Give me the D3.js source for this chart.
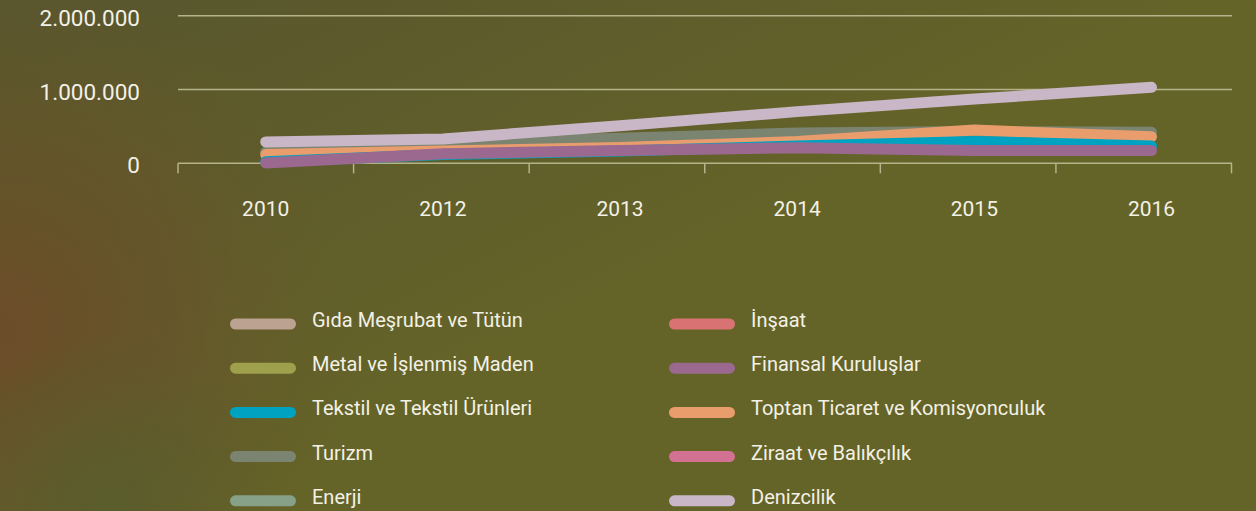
<!DOCTYPE html>
<html>
<head>
<meta charset="utf-8">
<script src="https://cdn.jsdelivr.net/npm/d3@7/dist/d3.min.js"></script>
<style>
    html, body { margin: 0; padding: 0; background: #636128; }
    svg { display: block; }
    text { font-family: Roboto, "Noto Sans", sans-serif; fill: #f3f1e6; }
</style>
</head>
<body>
<div id="vis"></div>
<script>
    const WIDTH = 1256;
    const HEIGHT = 511;

    // data (values in units)
    var years = ["2010", "2012", "2013", "2014", "2015", "2016"];
    var yTicks = [0, 1000000, 2000000];
    var seriesNames = ["Gıda Meşrubat ve Tütün", "Metal ve İşlenmiş Maden", "Tekstil ve Tekstil Ürünleri",
        "Turizm", "Enerji", "İnşaat", "Finansal Kuruluşlar", "Toptan Ticaret ve Komisyonculuk",
        "Ziraat ve Balıkçılık", "Denizcilik"];
    var seriesColors = ["#bba291", "#9fa04b", "#00a2c2", "#7a8470", "#87a088", "#d97272", "#9b6990",
        "#e99d6d", "#d27192", "#c9b6c6"];
    var turizm = [150000, 285000, 340000, 410000, 430000, 420000];
    var toptan = [120000, 165000, 215000, 295000, 450000, 360000];
    var tekstil = [20000, 120000, 165000, 235000, 295000, 235000];
    var finansal = [5000, 130000, 175000, 210000, 175000, 172000];
    var denizcilik = [290000, 330000, 510000, 700000, 870000, 1030000];
    // series that do not show up in the chart
    var gida = [];
    var metal = [];
    var enerji = [];
    var insaat = [];
    var ziraat = [];

    // drawing order, bottom first
    var lines = [
        {name: "Gıda Meşrubat ve Tütün", values: gida},
        {name: "Metal ve İşlenmiş Maden", values: metal},
        {name: "Enerji", values: enerji},
        {name: "İnşaat", values: insaat},
        {name: "Ziraat ve Balıkçılık", values: ziraat},
        {name: "Turizm", values: turizm},
        {name: "Toptan Ticaret ve Komisyonculuk", values: toptan},
        {name: "Tekstil ve Tekstil Ürünleri", values: tekstil},
        {name: "Finansal Kuruluşlar", values: finansal},
        {name: "Denizcilik", values: denizcilik}
    ];

    var color = d3.scaleOrdinal().domain(seriesNames).range(seriesColors);

    var svg = d3.select("#vis").append("svg")
        .attr("width", WIDTH)
        .attr("height", HEIGHT);

    // blurred photo background
    var defs = svg.append("defs");
    var g1 = defs.append("radialGradient").attr("id", "brown")
        .attr("gradientUnits", "userSpaceOnUse")
        .attr("cx", 0).attr("cy", 330).attr("r", 360);
    g1.append("stop").attr("offset", 0).attr("stop-color", "#6c4c29").attr("stop-opacity", 1);
    g1.append("stop").attr("offset", 0.45).attr("stop-color", "#68522a").attr("stop-opacity", 0.7);
    g1.append("stop").attr("offset", 1).attr("stop-color", "#655a28").attr("stop-opacity", 0);
    var g2 = defs.append("radialGradient").attr("id", "green")
        .attr("gradientUnits", "userSpaceOnUse")
        .attr("cx", 110).attr("cy", 500).attr("r", 170);
    g2.append("stop").attr("offset", 0).attr("stop-color", "#5a5d2c").attr("stop-opacity", 0.95);
    g2.append("stop").attr("offset", 1).attr("stop-color", "#5a5d2c").attr("stop-opacity", 0);
    var g3 = defs.append("linearGradient").attr("id", "top")
        .attr("x1", 0).attr("y1", 0).attr("x2", 0.6).attr("y2", 0.5);
    g3.append("stop").attr("offset", 0).attr("stop-color", "#56532f").attr("stop-opacity", 0.9);
    g3.append("stop").attr("offset", 1).attr("stop-color", "#56532f").attr("stop-opacity", 0);

    svg.append("rect").attr("width", WIDTH).attr("height", HEIGHT).attr("fill", "#656428");
    svg.append("rect").attr("width", WIDTH).attr("height", HEIGHT).attr("fill", "url(#top)");
    svg.append("rect").attr("width", WIDTH).attr("height", HEIGHT).attr("fill", "url(#brown)");
    svg.append("rect").attr("width", WIDTH).attr("height", HEIGHT).attr("fill", "url(#green)");

    var y = d3.scaleLinear().domain([0, 2000000]).range([163.3, 15.7]);
    var xBand = d3.scaleBand().domain(years).range([178, 1231.5]);
    var x = d3.scalePoint().domain(years).range([265.7, 1151.5]);

    var fmt = function (v) {
        return d3.format(",")(v).replace(/,/g, ".");
    };

    // grid lines
    svg.append("g").selectAll("line")
        .data(yTicks.filter(function (d) { return d > 0; }))
        .enter().append("line")
        .attr("x1", 178).attr("x2", 1232)
        .attr("y1", function (d) { return y(d); })
        .attr("y2", function (d) { return y(d); })
        .attr("stroke", "#b4b38a")
        .attr("stroke-width", 1.5);

    svg.append("g").selectAll("text")
        .data(yTicks)
        .enter().append("text")
        .attr("x", 140)
        .attr("y", function (d) { return y(d) + 10; })
        .attr("text-anchor", "end")
        .attr("font-size", "22.5px")
        .text(fmt);

    // x axis: baseline with ticks at band edges
    var xAxis = svg.append("g")
        .attr("transform", "translate(0," + y(0) + ")")
        .call(d3.axisBottom(xBand).tickSize(0).tickFormat(""));
    xAxis.select(".domain").remove();
    xAxis.append("line")
        .attr("x1", 178).attr("x2", 1232)
        .attr("stroke", "#b4b38a").attr("stroke-width", 1.5);
    xAxis.selectAll(".edge")
        .data(years.concat(["end"]))
        .enter().append("line")
        .attr("class", "edge")
        .attr("x1", function (d, i) { return xBand.range()[0] + i * xBand.step(); })
        .attr("x2", function (d, i) { return xBand.range()[0] + i * xBand.step(); })
        .attr("y1", 0).attr("y2", 10)
        .attr("stroke", "#b4b38a").attr("stroke-width", 1.5);

    svg.append("g").selectAll("text")
        .data(years)
        .enter().append("text")
        .attr("x", function (d) { return x(d); })
        .attr("y", 216)
        .attr("text-anchor", "middle")
        .attr("font-size", "21px")
        .text(function (d) { return d; });

    var line = d3.line()
        .x(function (d, i) { return x(years[i]); })
        .y(function (d) { return y(d); });

    svg.append("g").selectAll("path")
        .data(lines.filter(function (d) { return d.values.length > 0; }))
        .enter().append("path")
        .attr("d", function (d) { return line(d.values); })
        .attr("fill", "none")
        .attr("stroke", function (d) { return color(d.name); })
        .attr("stroke-width", 11)
        .attr("stroke-linecap", "round")
        .attr("stroke-linejoin", "round");

    // legend, two columns of five
    var legend = svg.append("g").selectAll("g")
        .data(seriesNames)
        .enter().append("g")
        .attr("transform", function (d, i) {
            var col = Math.floor(i / 5);
            var row = i % 5;
            return "translate(" + (col === 0 ? 230 : 669) + "," + (324 + row * 44.2) + ")";
        });
    legend.append("line")
        .attr("x1", 5.5).attr("x2", 60.5)
        .attr("stroke", function (d) { return color(d); })
        .attr("stroke-width", 11)
        .attr("stroke-linecap", "round");
    legend.append("text")
        .attr("x", 82)
        .attr("y", 3)
        .attr("font-size", "20px")
        .text(function (d) { return d; });
</script>
</body>
</html>
